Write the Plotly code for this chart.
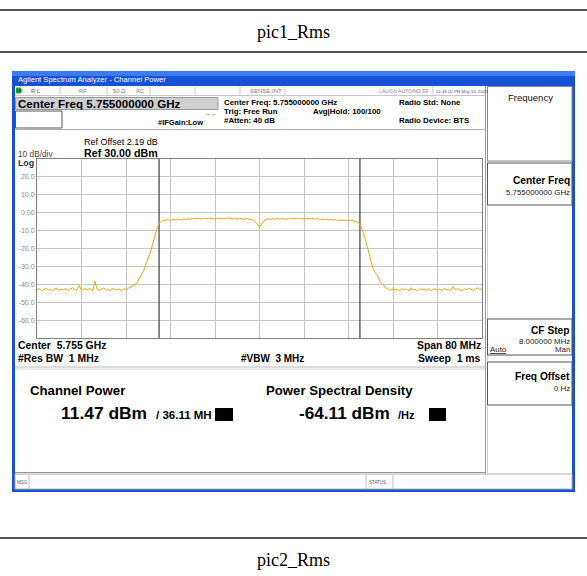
import plotly.graph_objects as go

W, H = 587, 576

# ---------------- data ----------------
span_mhz = 80.0
center_ghz = 5.755
channel_bw_mhz = 36.11
ref_level_dbm = 30.0
bottom_level_dbm = -70.0
grid_step_mhz = 8.0
y_tick_vals = [20, 10, 0, -10, -20, -30, -40, -50, -60]
y_tick_text = ["20.0", "10.0", "0.00", "-10.0", "-20.0", "-30.0", "-40.0", "-50.0", "-60.0"]

trace_dbm = [
    # lower noise floor
    -43.1, -42.4, -43.6, -42.9, -42.2, -43.3, -42.7, -43.9, -42.5, -42.1,
    -43.4, -42.8, -43.0, -42.3, -43.7, -42.6, -41.9, -43.2, -42.7, -40.6,
    -43.5, -42.4, -42.9, -43.1, -42.2, -43.8, -38.3, -42.7, -43.3, -42.5,
    -42.0, -43.4, -42.8, -43.6, -42.3, -42.9, -43.2, -42.6, -43.7, -42.4,
    -43.0, -42.2, -41.6, -41.0,
    # rising edge
    -40.2, -39.1, -37.0, -34.5, -32.2, -28.5, -25.5, -22.0, -17.5, -13.0,
    -8.5, -5.6, -4.7, -4.4,
    # left half of channel
    -4.2, -3.9, -4.3, -3.8, -4.0, -3.6, -3.9, -4.1, -3.5, -3.8,
    -3.4, -3.7, -3.2, -3.5, -3.0, -3.4, -3.6, -3.1, -3.3, -2.9,
    -3.4, -3.2, -3.6, -3.0, -3.3, -3.5, -3.1, -3.4, -2.9, -3.3,
    -3.6, -3.2, -3.5, -3.1, -3.4, -3.7, -3.3, -3.5, -3.8, -4.1,
    # centre dip
    -4.9, -6.6, -7.9, -6.4, -4.6,
    # right half of channel
    -3.8, -3.5, -3.9, -3.4, -3.7, -3.3, -3.6, -3.2, -3.5, -3.8,
    -3.4, -3.1, -3.6, -3.3, -3.0, -3.5, -3.2, -3.6, -3.3, -3.1,
    -3.5, -3.2, -3.7, -3.4, -3.9, -3.6, -4.0, -3.7, -4.1, -3.8,
    -4.2, -3.9, -4.3, -4.0, -4.4, -4.1, -4.3, -4.5, -4.2, -4.6, -4.8,
    # falling edge
    -5.2, -6.3, -8.8, -12.5, -17.0, -21.5, -25.0, -31.0, -33.5, -35.0,
    -38.3, -39.8, -41.0, -42.3,
    # upper noise floor
    -42.8, -43.4, -42.5, -43.1, -42.9, -43.7, -42.3, -43.0, -42.6, -43.5,
    -41.9, -43.2, -42.7, -43.8, -42.4, -43.0, -42.6, -43.3, -42.1, -43.6,
    -42.9, -42.4, -43.2, -42.8, -43.5, -42.3, -43.0, -42.7, -43.4, -41.2,
    -43.1, -42.5, -42.9, -43.6, -42.4, -43.0, -42.2, -42.8, -43.3, -42.6,
    -42.1, -42.9, -42.5,
]
n_pts = len(trace_dbm)
freq_offset_mhz = [-span_mhz / 2 + span_mhz * i / (n_pts - 1) for i in range(n_pts)]

# ---------------- helpers (pixel -> paper) ----------------
SANS = "Liberation Sans, Arial, sans-serif"
SERIF = "Liberation Serif, Times New Roman, serif"
shapes = []
annotations = []


def px(x):
    return x / W


def py(y):
    return 1 - y / H


def rect(x0, y0, x1, y1, fill=None, line=None, lw=1, layer="below"):
    shapes.append(dict(type="rect", xref="paper", yref="paper",
                       x0=px(x0), x1=px(x1), y0=py(y0), y1=py(y1),
                       fillcolor=fill if fill else "rgba(0,0,0,0)",
                       line=dict(color=line if line else "rgba(0,0,0,0)", width=lw if line else 0),
                       layer=layer))


def seg(x0, y0, x1, y1, color, lw=1, layer="below"):
    shapes.append(dict(type="line", xref="paper", yref="paper",
                       x0=px(x0), x1=px(x1), y0=py(y0), y1=py(y1),
                       line=dict(color=color, width=lw), layer=layer))


def txt(x, y, s, size, bold=False, color="#000000", anchor="left", family=SANS, underline=False):
    t = s
    if underline:
        t = "<u>" + t + "</u>"
    if bold:
        t = "<b>" + t + "</b>"
    annotations.append(dict(xref="paper", yref="paper", x=px(x), y=py(y), text=t,
                            showarrow=False, xanchor=anchor, yanchor="middle",
                            borderpad=0, font=dict(family=family, size=size, color=color)))


# ---------------- document chrome ----------------
seg(0, 10, W, 10, "#1a1a1a", 1.6)
txt(293.5, 32, "pic1_Rms", 18, family=SERIF, anchor="center")
seg(0, 52, W, 52, "#1a1a1a", 1.6)
seg(0, 538, W, 538, "#1a1a1a", 1.6)
txt(293.5, 560, "pic2_Rms", 18, family=SERIF, anchor="center")

# ---------------- window frame ----------------
rect(12, 71, 575, 492, fill="#1651d6")
rect(12, 71, 575, 76, fill="#3b7cf2")
rect(15, 86, 572, 489, fill="#ffffff")
txt(17, 79, "Agilent Spectrum Analyzer - Channel Power", 7.6, color="#ffffff")

# status row
seg(15, 95.5, 485, 95.5, "#c8c8c8", 1)
rect(16, 87.5, 21, 93.5, fill="#2aa52a")
txt(16.2, 90.5, "LXI", 3.5, bold=True, color="#003300")
txt(30, 91, "R L", 5.8, color="#555555")
for sx in [60, 107, 150, 195, 240, 285, 433]:
    seg(sx, 86.5, sx, 95, "#c8c8c8", 1)
txt(78, 91, "RF", 5.8, color="#777777")
txt(112, 91, "50 Ω", 5.8, color="#777777")
txt(135, 91, "AC", 5.8, color="#777777")
txt(249, 91, "SENSE:INT", 6, color="#777777")
txt(377, 91, "<span style='color:#d4a000'>⚠</span>ALIGN AUTO/NO RF", 5.0, color="#888888")
txt(434.5, 91, "01:44:00 PM May 10, 2023", 4.3, color="#555555")

# header
rect(15.5, 97.5, 218, 109.5, fill="#cfcfcf", line="#9a9a9a", lw=1)
txt(16.5, 103.6, "Center Freq 5.755000000 GHz", 11.6, bold=True)
rect(15.5, 111, 62, 128, fill="#ffffff", line="#555555", lw=1)
txt(157, 122.5, "#IFGain:Low", 7.5, bold=True)
txt(204, 113.5, "→←", 6, bold=True)
txt(223, 103, "Center Freq: 5.755000000 GHz", 7.9, bold=True)
txt(223, 112, "Trig: Free Run", 7.9, bold=True)
txt(312, 112, "Avg|Hold: 100/100", 7.9, bold=True)
txt(223, 121, "#Atten: 40 dB", 7.9, bold=True)
txt(398, 103, "Radio Std: None", 7.9, bold=True)
txt(398, 121, "Radio Device: BTS", 7.9, bold=True)
seg(15, 129.5, 485, 129.5, "#b0b0b0", 1)

# right soft-key panel
seg(485.5, 86, 485.5, 476, "#9a9a9a", 1)
seg(487.5, 86, 487.5, 476, "#d0d0d0", 1)
rect(487.5, 86.5, 572, 161, fill="#ffffff", line="#8a8a8a", lw=1)
txt(530, 97.5, "Frequency", 9.5, anchor="center", color="#111111")
rect(487.5, 163, 572, 205, fill="#ffffff", line="#555555", lw=1)
txt(570.5, 180, "Center Freq", 10.2, bold=True, anchor="right")
txt(570.5, 192.5, "5.755000000 GHz", 7.9, anchor="right", color="#222222")
rect(487.5, 319, 572, 355, fill="#ffffff", line="#555555", lw=1)
txt(570.5, 330, "CF Step", 10.2, bold=True, anchor="right")
txt(570.5, 341, "8.000000 MHz", 7.9, anchor="right", color="#222222")
txt(488.5, 349, "Auto", 7.9, anchor="left", color="#222222", underline=True)
txt(570.5, 349, "Man", 7.9, anchor="right", color="#222222")
rect(487.5, 362, 572, 405, fill="#ffffff", line="#555555", lw=1)
txt(570.5, 376, "Freq Offset", 10.2, bold=True, anchor="right")
txt(570.5, 388.5, "0 Hz", 7.9, anchor="right", color="#222222")
seg(487.5, 475.5, 572, 475.5, "#9a9a9a", 1)

# plot annotations
txt(83, 141.5, "Ref Offset 2.19 dB", 9)
txt(83, 153, "Ref 30.00 dBm", 10.7, bold=True)
txt(16.5, 153.5, "10 dB/div", 8.3, color="#444444")
txt(16.5, 162.5, "Log", 8.8, bold=True, color="#333333")

txt(17, 345.5, "Center  5.755 GHz", 10.4, bold=True)
txt(17, 358, "#Res BW  1 MHz", 10.4, bold=True)
txt(240, 358, "#VBW  3 MHz", 10, bold=True)
txt(482, 345.5, "Span 80 MHz", 10.4, bold=True, anchor="right")
txt(482, 358, "Sweep  1 ms", 10.4, bold=True, anchor="right")
seg(15, 367, 485, 367, "#b8b8b8", 1)
seg(15, 369, 485, 369, "#d8d8d8", 1)

# results panel
txt(28.5, 390, "Channel Power", 13.2, bold=True)
txt(59.5, 413, "11.47 dBm", 17.4, bold=True)
txt(154.5, 414.5, "/ 36.11 MH", 11.5, bold=True)
rect(215, 408, 233, 421, fill="#000000", layer="above")
txt(264.5, 390, "Power Spectral Density", 13.2, bold=True)
txt(297.5, 413, "-64.11 dBm", 17.2, bold=True)
txt(397, 414.5, "/Hz", 11, bold=True)
rect(429, 408, 446, 421, fill="#000000", layer="above")
seg(15, 472.5, 485, 472.5, "#9a9a9a", 1)

# message bar
rect(15, 474, 572, 489, fill="#ffffff", line="#b0b0b0", lw=1)
txt(16, 482, "MSG", 4.5, color="#555555")
seg(29, 474, 29, 489, "#c0c0c0", 1)
txt(368, 482, "STATUS", 4.5, color="#555555")
seg(366, 474, 366, 489, "#c0c0c0", 1)
seg(393, 474, 393, 489, "#c0c0c0", 1)

# channel integration markers (data coords)
for edge in (-channel_bw_mhz / 2, channel_bw_mhz / 2):
    shapes.append(dict(type="line", xref="x", yref="y", x0=edge, x1=edge,
                       y0=bottom_level_dbm, y1=ref_level_dbm,
                       line=dict(color="#3c3c3c", width=1.2), layer="between"))

# ---------------- figure ----------------
fig = go.Figure()
fig.add_trace(go.Scatter(x=freq_offset_mhz, y=trace_dbm, mode="lines",
                         line=dict(color="#F0A416", width=1), hoverinfo="skip",
                         showlegend=False))

plot_left, plot_right, plot_top, plot_bottom = 37, 482, 159, 338
grid_vals = [-span_mhz / 2 + grid_step_mhz * k for k in range(int(span_mhz / grid_step_mhz) + 1)]

fig.update_layout(
    width=W, height=H,
    margin=dict(l=0, r=0, t=0, b=0, pad=0),
    paper_bgcolor="#ffffff",
    plot_bgcolor="rgba(0,0,0,0)",
    showlegend=False,
    hovermode=False,
    shapes=shapes,
    annotations=annotations,
    xaxis=dict(domain=[px(plot_left), px(plot_right)], range=[-span_mhz / 2, span_mhz / 2],
               tickvals=grid_vals, showticklabels=False, ticks="",
               showgrid=True, gridcolor="#c6c6c6", gridwidth=1, zeroline=False,
               showline=True, mirror=True, linecolor="#808080", linewidth=1, fixedrange=True),
    yaxis=dict(domain=[py(plot_bottom), py(plot_top)], range=[bottom_level_dbm, ref_level_dbm],
               tickvals=y_tick_vals, ticktext=y_tick_text, ticks="",
               tickfont=dict(family=SANS, size=7, color="#8a8a8a"),
               showgrid=True, gridcolor="#c6c6c6", gridwidth=1, zeroline=False,
               showline=True, mirror=True, linecolor="#808080", linewidth=1, fixedrange=True),
)

fig.write_html("out.html",
               config={"displayModeBar": False, "staticPlot": True},
               post_script="document.body.style.margin='0px';document.body.style.padding='0px';"
                           "document.body.style.overflow='hidden';")
